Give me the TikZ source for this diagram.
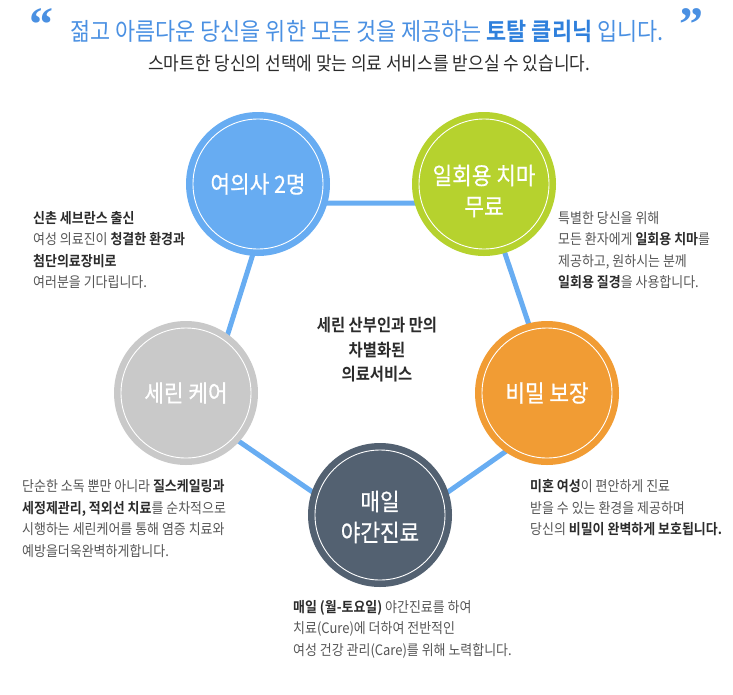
\documentclass[tikz,border=0pt]{standalone}
\usepackage{fontspec}
\setmainfont{Noto Sans CJK KR}[FakeStretch=0.9, BoldFont={Noto Sans CJK KR Bold}]
\newfontfamily\krmed{Noto Sans CJK KR}[FakeStretch=0.9, FakeBold=0.6]
\newfontfamily\quotefont{Liberation Serif}[BoldFont={Liberation Serif Bold}]
\definecolor{cblue}{HTML}{67ACF2}
\definecolor{cgreen}{HTML}{B6D22E}
\definecolor{corange}{HTML}{F19C34}
\definecolor{cgray}{HTML}{C9C9C9}
\definecolor{cdark}{HTML}{536171}
\definecolor{linec}{HTML}{68ADF2}
\definecolor{hblue}{HTML}{4A90E2}
\definecolor{hbold}{HTML}{2F80DC}
\definecolor{txt}{HTML}{555555}
\definecolor{btxt}{HTML}{2B2B2B}
\newcommand\hb[1]{\textbf{\color{btxt}#1}}
\begin{document}
\begin{tikzpicture}[x=1pt,y=-1pt,
  bub/.style={circle, fill=#1, minimum size=144pt, inner sep=0pt,
    path picture={\draw[white, line width=0.9pt] (path picture bounding box.center) circle (65pt);}},
  bubtext/.style={align=center, inner sep=0pt, text=white, font=\krmed\fontsize{23.7}{31}\selectfont},
  conn/.style={draw=linec, line width=5pt},
  desc/.style={anchor=west, align=left, inner sep=0pt, text=txt, font=\fontsize{14.4}{21.5}\selectfont},
  quote/.style={anchor=base west, inner sep=0pt, text=hblue, font=\quotefont\bfseries\fontsize{48}{48}\selectfont}
]
\useasboundingbox (0,0) rectangle (733,694);
% connectors (pentagon behind the circles)
\coordinate (pa) at (269,203);
\coordinate (pb) at (488,203);
\coordinate (pc) at (202,416);
\coordinate (pd) at (559,414);
\coordinate (pe) at (381,539);
\draw[conn] (pa) -- (pb) -- (pd) -- (pe) -- (pc) -- cycle;
% circles
\node[bub=cblue] (c1) at (258,184) {};
\node[bub=cgreen] (c2) at (484,184) {};
\node[bub=cgray] (c3) at (186,393) {};
\node[bub=corange] (c5) at (547,393) {};
\node[bub=cdark] (c4) at (380,515) {};
\node[bubtext] (c1t) at (c1.center) {여의사 2명};
\node[bubtext] (c2t) at ([yshift=-7pt]c2.center) {일회용 치마\\무료};
\node[bubtext] (c3t) at (c3.center) {세린 케어};
\node[bubtext] (c5t) at (c5.center) {비밀 보장};
\node[bubtext] (c4t) at ([yshift=-2pt]c4.center) {매일\\야간진료};
% header
\node[quote] (q1) at (29,40) {“};
\node[quote] (q2) at (679,40) {”};
\node[anchor=west, inner sep=0pt, text=hblue, font=\fontsize{24.3}{28}\selectfont] (h1) at (70,31)
  {젊고 아름다운 당신을 위한 모든 것을 제공하는 \textbf{\color{hbold}토탈 클리닉} 입니다.};
\node[anchor=west, inner sep=0pt, text=btxt, font=\fontsize{18.9}{22}\selectfont] (h2) at (148,63.5)
  {스마트한 당신의 선택에 맞는 의료 서비스를 받으실 수 있습니다.};
% center text
\node[align=center, inner sep=0pt, text=btxt, font=\bfseries\fontsize{17.1}{24.5}\selectfont] (mid) at (377,350)
  {세린 산부인과 만의\\차별화된\\의료서비스};
% descriptions
\node[desc] (t1) at (33,250) {\hb{신촌 세브란스 출신}\\여성 의료진이 \hb{청결한 환경과}\\\hb{첨단의료장비로}\\여러분을 기다립니다.};
\node[desc] (t2) at (558,250) {특별한 당신을 위해\\모든 환자에게 \hb{일회용 치마}를\\제공하고, 원하시는 분께\\\hb{일회용 질경}을 사용합니다.};
\node[desc] (t3) at (22,518.5) {단순한 소독 뿐만 아니라 \hb{질스케일링과}\\\hb{세정제관리, 적외선 치료}를 순차적으로\\시행하는 세린케어를 통해 염증 치료와\\예방을더욱완벽하게합니다.};
\node[desc] (t4) at (530,508) {\hb{미혼 여성}이 편안하게 진료\\받을 수 있는 환경을 제공하며\\당신의 \hb{비밀이 완벽하게 보호됩니다.}};
\node[desc] (t5) at (293,629) {\hb{매일 (월-토요일)} 야간진료를 하여\\치료(Cure)에 더하여 전반적인\\여성 건강 관리(Care)를 위해 노력합니다.};
\end{tikzpicture}
\end{document}
